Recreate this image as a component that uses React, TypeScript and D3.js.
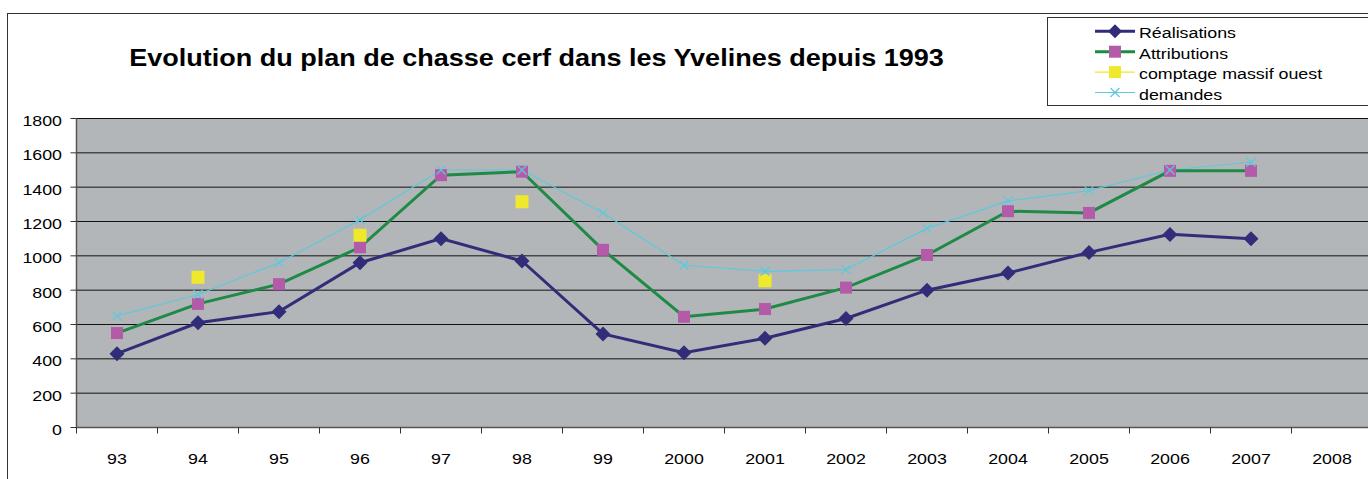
import React from 'react';
import * as d3 from 'd3';

const categories = ['93', '94', '95', '96', '97', '98', '99', '2000', '2001', '2002', '2003', '2004', '2005', '2006', '2007', '2008'];
const realisations: (number | null)[] = [430, 610, 675, 960, 1100, 970, 545, 435, 520, 635, 800, 900, 1020, 1125, 1100, null];
const attributions: (number | null)[] = [550, 720, 835, 1050, 1470, 1490, 1035, 645, 690, 815, 1005, 1260, 1250, 1495, 1495, null];
const comptage: (number | null)[] = [null, 875, null, 1120, null, 1315, null, null, 855, null, null, null, null, null, null, null];
const demandes: (number | null)[] = [650, 775, 960, 1210, 1500, 1500, 1250, 945, 910, 920, 1160, 1320, 1380, 1500, 1545, null];
const yTicks = [0, 200, 400, 600, 800, 1000, 1200, 1400, 1600, 1800];

const W = 1368;
const H = 479;
const plot = { left: 76.5, right: 1372.5, top: 118.5, bottom: 427.5 };
const FONT = 'Liberation Sans, Arial, sans-serif';
const STRETCH = 1.15;

const NAVY = '#312d78';
const GREEN = '#1f8a45';
const PINK = '#b35aa8';
const YELLOW = '#f0e82a';
const CYAN = '#5cc9dc';

function Diamond({ x, y, r = 7.5 }: { x: number; y: number; r?: number }) {
  return <path d={`M${x},${y - r}L${x + r},${y}L${x},${y + r}L${x - r},${y}Z`} fill={NAVY} />;
}
function Square({ x, y, s, fill }: { x: number; y: number; s: number; fill: string }) {
  return <rect x={x - s / 2} y={y - s / 2} width={s} height={s} fill={fill} />;
}
function Cross({ x, y, r = 4.5 }: { x: number; y: number; r?: number }) {
  return (
    <path d={`M${x - r},${y - r}L${x + r},${y + r}M${x - r},${y + r}L${x + r},${y - r}`} stroke={CYAN} strokeWidth={1.2} fill="none" />
  );
}

// the original text is slightly wider than Arial, so stretch it a little
function T({ x, y, size, anchor = 'start', bold = false, children }: {
  x: number; y: number; size: number; anchor?: string; bold?: boolean; children: React.ReactNode;
}) {
  return (
    <text transform={`translate(${x},${y}) scale(${STRETCH},1)`} textAnchor={anchor} fontSize={size}
      fontWeight={bold ? 'bold' : 'normal'} fill="#000">
      {children}
    </text>
  );
}

export default function App() {
  const x = d3.scaleBand().domain(categories).range([plot.left, plot.right]);
  const y = d3.scaleLinear().domain([0, 1800]).range([plot.bottom, plot.top]);
  const cx = (c: string) => (x(c) as number) + x.bandwidth() / 2;

  const line = d3
    .line<number | null>()
    .defined(d => d != null)
    .x((_, i) => cx(categories[i]))
    .y(d => y(d as number));

  const pts = (arr: (number | null)[]) =>
    arr.map((v, i) => ({ v, c: categories[i] })).filter(p => p.v != null) as { v: number; c: string }[];

  const legend = [
    { label: 'Réalisations', kind: 'r' },
    { label: 'Attributions', kind: 'a' },
    { label: 'comptage massif ouest', kind: 'c' },
    { label: 'demandes', kind: 'd' },
  ];

  return (
    <svg width={W} height={H} style={{ position: 'absolute', left: 0, top: 0, background: '#fff' }} fontFamily={FONT}>
      {/* chart border */}
      <rect x={7.5} y={13.5} width={W + 20} height={H + 20} fill="#fff" stroke="#333" strokeWidth={1} />

      {/* plot area */}
      <rect x={plot.left} y={plot.top} width={plot.right - plot.left} height={plot.bottom - plot.top} fill="#b3b6b9" />
      {yTicks.map(t => (
        <line key={t} x1={plot.left} x2={plot.right} y1={y(t)} y2={y(t)} stroke={t === 0 ? '#555' : '#111'} strokeWidth={1} />
      ))}

      {/* y axis */}
      <line x1={plot.left} x2={plot.left} y1={plot.top} y2={plot.bottom} stroke="#555" strokeWidth={1.5} />
      {yTicks.map(t => (
        <g key={t}>
          <line x1={plot.left - 6} x2={plot.left} y1={y(t)} y2={y(t)} stroke="#333" />
          <T x={62} y={y(t) + 7.4} size={15.5} anchor="end">{t}</T>
        </g>
      ))}

      {/* x axis */}
      <line x1={plot.left} x2={plot.right} y1={plot.bottom} y2={plot.bottom} stroke="#555" strokeWidth={1.5} />
      {categories.map(c => (
        <g key={c}>
          <line x1={x(c) as number} x2={x(c) as number} y1={plot.bottom} y2={plot.bottom + 6} stroke="#333" />
          <T x={cx(c)} y={464} size={15.5} anchor="middle">{c}</T>
        </g>
      ))}

      {/* series */}
      <path d={line(demandes) || ''} fill="none" stroke={CYAN} strokeWidth={1.2} />
      <path d={line(attributions) || ''} fill="none" stroke={GREEN} strokeWidth={3} />
      <path d={line(realisations) || ''} fill="none" stroke={NAVY} strokeWidth={3} />
      {pts(realisations).map(p => <Diamond key={'r' + p.c} x={cx(p.c)} y={y(p.v)} />)}
      {pts(attributions).map(p => <Square key={'a' + p.c} x={cx(p.c)} y={y(p.v)} s={12} fill={PINK} />)}
      {pts(comptage).map(p => <Square key={'c' + p.c} x={cx(p.c)} y={y(p.v)} s={13} fill={YELLOW} />)}
      {pts(demandes).map(p => <Cross key={'d' + p.c} x={cx(p.c)} y={y(p.v)} />)}

      {/* title */}
      <T x={536.5} y={65.5} size={23.5} anchor="middle" bold>
        Evolution du plan de chasse cerf dans les Yvelines depuis 1993
      </T>

      {/* legend */}
      <rect x={1047.5} y={17.5} width={340} height={88} fill="#fff" stroke="#333" strokeWidth={1} />
      {legend.map((l, i) => {
        const base = 38.3 + i * 20.4;
        const ly = base - 7;
        const col = l.kind === 'r' ? NAVY : l.kind === 'a' ? GREEN : l.kind === 'c' ? YELLOW : CYAN;
        return (
          <g key={l.label}>
            <line x1={1095} x2={1135} y1={ly} y2={ly} stroke={col} strokeWidth={l.kind === 'r' || l.kind === 'a' ? 3 : 1.2} />
            {l.kind === 'r' && <Diamond x={1115} y={ly} r={7} />}
            {l.kind === 'a' && <Square x={1115} y={ly} s={12} fill={PINK} />}
            {l.kind === 'c' && <Square x={1115} y={ly} s={12} fill={YELLOW} />}
            {l.kind === 'd' && <Cross x={1115} y={ly} />}
            <T x={1139} y={base} size={15.5}>{l.label}</T>
          </g>
        );
      })}
    </svg>
  );
}
